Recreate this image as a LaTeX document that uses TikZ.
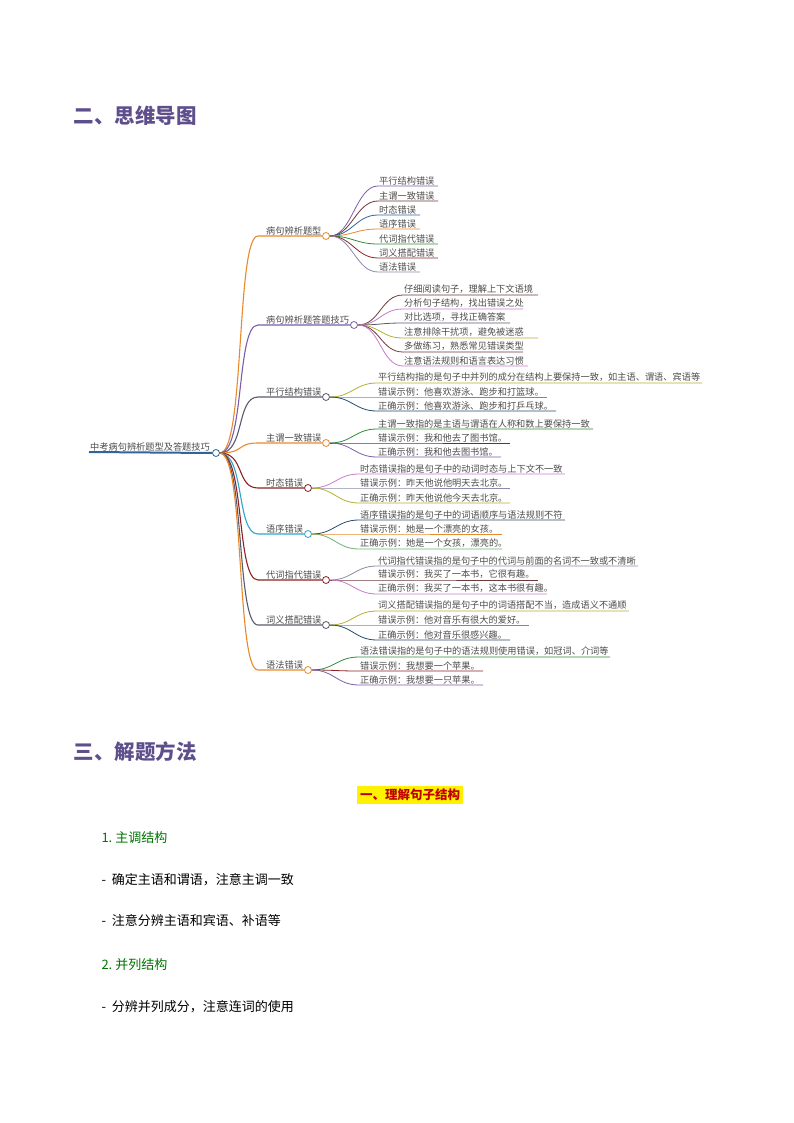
\documentclass[tikz,border=0pt]{standalone}
\usepackage{fontspec}
\usetikzlibrary{calc}
\setmainfont{Noto Sans CJK SC}
\newfontfamily\cjk{Noto Sans CJK SC}
\begin{document}
\begin{tikzpicture}[x=1pt,y=-1pt,
  leaf/.style={anchor=south west,inner sep=1pt,font=\fontsize{9.2}{10}\selectfont,text=black!70},
  knob/.style={circle,draw=#1,fill=white,line width=0.8pt,inner sep=0pt,minimum size=7pt},
  heading/.style={anchor=west,font=\fontsize{20.5}{22}\selectfont\bfseries,text=hd},
  body/.style={anchor=west,font=\fontsize{13}{14}\selectfont}]
\definecolor{hd}{HTML}{5E4F8C}
\definecolor{cOr}{HTML}{E8892B}\definecolor{cPu}{HTML}{7B5EA7}\definecolor{cGy}{HTML}{5A5A6E}
\definecolor{cDr}{HTML}{8B2323}\definecolor{cCy}{HTML}{2AA7C9}\definecolor{cBl}{HTML}{2E6699}
\definecolor{cGr}{HTML}{2E8B3A}\definecolor{cPk}{HTML}{C77CC9}\definecolor{cOl}{HTML}{B5B030}
\definecolor{cBr}{HTML}{6B3A3A}\definecolor{cNv}{HTML}{274A6B}\definecolor{cMg}{HTML}{8A8AAA}
\definecolor{cLg}{HTML}{6FB06F}
\useasboundingbox (0,0) rectangle (794,1123);
\node[heading] (h1) at (70,116) {二、思维导图};
% root
\node[anchor=south west,inner sep=1pt,font=\fontsize{9.2}{10}\selectfont,text=black!70] (root) at (89,452) {中考病句辨析题型及答题技巧};
\node[knob=cBl] (rk) at (216,453) {};
\draw[cBl,line width=2pt] (root.south west) -- (rk.west);
% branches: name/text/y/circlex/color/startx
\foreach \n/\t/\y/\cx/\c/\sx in {
 b1/病句辨析题型/236/326/cOr/378,
 b2/病句辨析题答题技巧/325/354/cPu/403,
 b3/平行结构错误/397/326/cGy/377,
 b4/主谓一致错误/443/326/cOr/377,
 b5/时态错误/488/308/cDr/359,
 b6/语序错误/534/308/cCy/359,
 b7/代词指代错误/580/326/cDr/377,
 b8/词义搭配错误/625/326/cGy/377,
 b9/语法错误/670/308/cOr/359}{
  \node[leaf] (\n) at (265,\y) {\t};
  \node[knob=\c] (\n k) at (\cx,\y) {};
  \coordinate (\n s) at (258,\y);
  \draw[\c,line width=1.1pt] (rk.east) .. controls (245,453) and (236,\y) .. (\n s) -- (\n k.west);
}
\foreach \b/\sx/\i/\t/\y/\ex/\c in {
 b1/378/1/平行结构错误/186/438/cPu, b1/378/2/主谓一致错误/201/438/cBr, b1/378/3/时态错误/215/420/cBl,
 b1/378/4/语序错误/229/420/cOr, b1/378/5/代词指代错误/244/438/cGr, b1/378/6/词义搭配错误/258/438/cDr,
 b1/378/7/语法错误/272/420/cMg,
 b2/403/1/仔细阅读句子，理解上下文语境/295/538/cBr, b2/403/2/分析句子结构，找出错误之处/309/523/cPk,
 b2/403/3/对比选项，寻找正确答案/323/510/cGy, b2/403/4/注意排除干扰项，避免被迷惑/338/538/cOl,
 b2/403/5/多做练习，熟悉常见错误类型/352/523/cBr, b2/403/6/注意语法规则和语言表达习惯/366/528/cPk,
 b3/377/1/平行结构指的是句子中并列的成分在结构上要保持一致，如主语、谓语、宾语等/383/702/cOl,
 b3/377/2/错误示例：他喜欢游泳、跑步和打篮球。/397/547/cCy,
 b3/377/3/正确示例：他喜欢游泳、跑步和打乒乓球。/411/556/cNv,
 b4/377/1/主谓一致指的是主语与谓语在人称和数上要保持一致/429/593/cGr,
 b4/377/2/错误示例：我和他去了图书馆。/443/510/cDr,
 b4/377/3/正确示例：我和他去图书馆。/457/501/cPu,
 b5/359/1/时态错误指的是句子中的动词时态与上下文不一致/474/565/cPk,
 b5/359/2/错误示例：昨天他说他明天去北京。/488/510/cMg,
 b5/359/3/正确示例：昨天他说他今天去北京。/503/510/cOl,
 b6/359/1/语序错误指的是句子中的词语顺序与语法规则不符/520/565/cNv,
 b6/359/2/错误示例：她是一个漂亮的女孩。/534/502/cOr,
 b6/359/3/正确示例：她是一个女孩，漂亮的。/549/502/cLg,
 b7/377/1/代词指代错误指的是句子中的代词与前面的名词不一致或不清晰/566/638/cMg,
 b7/377/2/错误示例：我买了一本书，它很有趣。/580/538/cBr,
 b7/377/3/正确示例：我买了一本书，这本书很有趣。/594/547/cPk,
 b8/377/1/词义搭配错误指的是句子中的词语搭配不当，造成语义不通顺/611/629/cOl,
 b8/377/2/错误示例：他对音乐有很大的爱好。/625/529/cCy,
 b8/377/3/正确示例：他对音乐很感兴趣。/640/510/cNv,
 b9/359/1/语法错误指的是句子中的语法规则使用错误，如冠词、介词等/657/610/cGr,
 b9/359/2/错误示例：我想要一个苹果。/671/483/cDr,
 b9/359/3/正确示例：我想要一只苹果。/685/483/cPu}{
  \node[leaf] (\b c\i) at (\sx,\y) {\t};
  \coordinate (\b e\i) at (\ex,\y);
  \draw[\c,line width=0.8pt] (\b k.east) .. controls ($(\b k.east)+(22,0)$) and (\sx-22,\y) .. (\sx,\y) -- (\b e\i);
}
\node[heading] (h2) at (70,752) {三、解题方法};
\node[fill=yellow,inner sep=3pt,text=red!75!black,font=\fontsize{12.5}{14}\selectfont\bfseries] (s1) at (410,795) {一、理解句子结构};
\node[body,text=green!45!black] (g1) at (98,838) {1.\ 主调结构};
\node[body] (l1) at (98,880) {-\ \ 确定主语和谓语，注意主调一致};
\node[body] (l2) at (98,921) {-\ \ 注意分辨主语和宾语、补语等};
\node[body,text=green!45!black] (g2) at (98,965) {2.\ 并列结构};
\node[body] (l3) at (98,1007) {-\ \ 分辨并列成分，注意连词的使用};
\end{tikzpicture}
\end{document}
